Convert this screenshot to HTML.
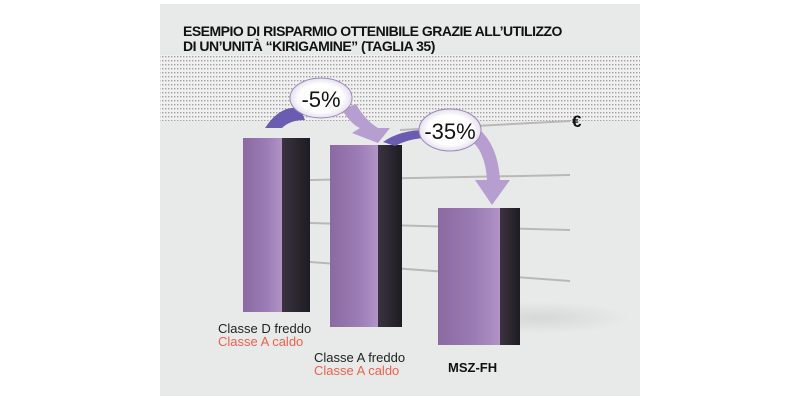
<!DOCTYPE html>
<html><head><meta charset="utf-8"><style>
body{margin:0;background:#fff;width:800px;height:408px;overflow:hidden}
svg{position:absolute;left:0;top:0}
text{font-family:"Liberation Sans",sans-serif}
</style></head><body>
<svg width="800" height="408" viewBox="0 0 800 408">
<defs>
<pattern id="dots" width="3" height="4" patternUnits="userSpaceOnUse"><rect width="3" height="4" fill="#f0f0f0"/><rect width="1.4" height="1.4" fill="#a0a0a0"/></pattern>
<linearGradient id="fr" x1="0" x2="1"><stop offset="0" stop-color="#8a6aa0"/><stop offset="0.6" stop-color="#9c7cb4"/><stop offset="1" stop-color="#b294c8"/></linearGradient>
<linearGradient id="sd" x1="0" x2="1"><stop offset="0" stop-color="#3a3340"/><stop offset="1" stop-color="#1e1c22"/></linearGradient>
<radialGradient id="bl"><stop offset="0.7" stop-color="#fff"/><stop offset="1" stop-color="#e6e0ee"/></radialGradient>
<radialGradient id="sh"><stop offset="0" stop-color="#d6d8d8"/><stop offset="1" stop-color="#e8eaea"/></radialGradient>
</defs>
<rect x="160" y="4" width="480" height="392" fill="#e8eaea"/>
<rect x="160" y="55" width="480" height="66" fill="url(#dots)"/>
<text x="183" y="36" font-size="14" font-weight="bold" fill="#111" letter-spacing="-0.5">ESEMPIO DI RISPARMIO OTTENIBILE GRAZIE ALL’UTILIZZO</text>
<text x="183" y="51" font-size="14" font-weight="bold" fill="#111" letter-spacing="-0.5">DI UN’UNITÀ “KIRIGAMINE” (TAGLIA 35)</text>
<g stroke="#b8b8b8" stroke-width="2">
<line x1="400" y1="130" x2="570" y2="121"/>
<line x1="310" y1="180" x2="570" y2="175"/>
<line x1="310" y1="223" x2="570" y2="230"/>
<line x1="310" y1="262" x2="570" y2="281"/>
</g>
<ellipse cx="540" cy="318" rx="90" ry="16" fill="url(#sh)"/>
<rect x="243" y="138" width="40" height="174" fill="url(#fr)"/>
<rect x="282" y="138" width="28" height="174" fill="url(#sd)"/>
<rect x="330" y="145" width="48" height="182" fill="url(#fr)"/>
<rect x="378" y="145" width="24" height="182" fill="url(#sd)"/>
<rect x="438" y="208" width="63" height="137" fill="url(#fr)"/>
<rect x="500" y="208" width="20" height="137" fill="url(#sd)"/>
<path d="M265 128 Q280 105 300 108 L305 120 Q290 120 282 128 Z" fill="#6a5cb0"/>
<path d="M342 110 Q352 125 360 128 L352 133 L378 143 L390 128 L378 128 Q365 120 356 104 Z" fill="#b69ed0"/>
<path d="M383 142 Q400 130 425 130 L428 138 Q410 138 395 146 Z" fill="#6a5cb0"/>
<path d="M470 140 Q485 150 487 180 L475 180 L492 205 L510 180 L500 180 Q498 145 478 128 Z" fill="#b69ed0"/>
<ellipse cx="321" cy="98" rx="31" ry="20" fill="url(#bl)" stroke="#9a8ab8" stroke-width="1"/>
<text x="321" y="107" font-size="22" text-anchor="middle" fill="#111">-5%</text>
<ellipse cx="450" cy="130" rx="31" ry="21" fill="url(#bl)" stroke="#9a8ab8" stroke-width="1"/>
<text x="450" y="139" font-size="22" text-anchor="middle" fill="#111">-35%</text>
<text x="572" y="127" font-size="17" font-weight="bold" fill="#111">€</text>
<text x="218" y="333" font-size="13" fill="#222">Classe D freddo</text>
<text x="218" y="346" font-size="13" fill="#f0604a">Classe A caldo</text>
<text x="314" y="362" font-size="13" fill="#222">Classe A freddo</text>
<text x="314" y="375" font-size="13" fill="#f0604a">Classe A caldo</text>
<text x="448" y="372" font-size="13" font-weight="bold" fill="#111">MSZ-FH</text>
</svg>
</body></html>
